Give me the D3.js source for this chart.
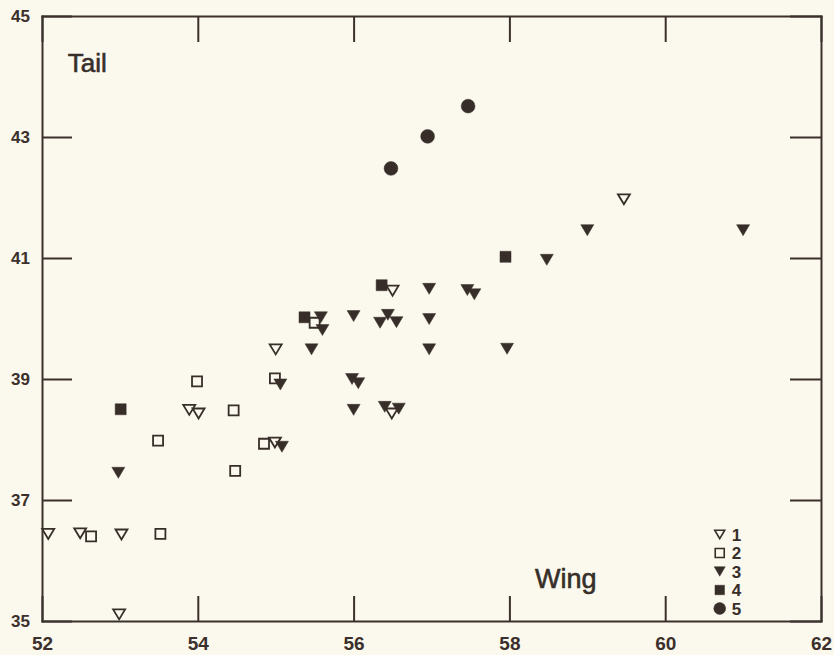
<!DOCTYPE html>
<html>
<head>
<meta charset="utf-8">
<script src="https://cdn.jsdelivr.net/npm/d3@7"></script>
<style>
  body { margin: 0; background: #fbf9ed; }
  svg { display: block; }
  .axis path, .axis line { stroke: #3b302c; stroke-width: 2; }
  .axis text { font-family: "Liberation Sans", Arial, sans-serif; font-weight: bold; font-size: 17px; fill: #3b302c; }
  .axis.xlab text { font-size: 19px; }
</style>
</head>
<body>
<div id="chart"></div>
<script>
// chart size and frame
var svgWidth = 834;
var svgHeight = 655;

var margin = {
  top: 16,
  right: 13,
  bottom: 34,
  left: 42
};

var width = svgWidth - margin.left - margin.right;
var height = svgHeight - margin.top - margin.bottom;

var ink = "#372e2a";
var paper = "#fbf9ed";

// tick values
var xTicks = [52, 54, 56, 58, 60, 62];
var yTicks = [35, 37, 39, 41, 43, 45];

// data: [wing, tail] for each group
var group1 = [[52.08, 36.44], [52.49, 36.45], [53.02, 36.43], [52.99, 35.11], [53.89, 38.49],
              [54.01, 38.43], [54.99, 37.95], [55.0, 39.49], [56.5, 40.46], [56.49, 38.43], [59.47, 41.97]];
var group2 = [[52.63, 36.4], [53.52, 36.44], [53.49, 37.98], [53.99, 38.96], [54.46, 38.48],
              [54.48, 37.48], [54.85, 37.93], [54.99, 39.01], [55.5, 39.93]];
var group3 = [[52.98, 37.45], [55.08, 37.88], [55.06, 38.91], [55.46, 39.49], [55.58, 40.02],
              [55.6, 39.81], [56.0, 40.04], [55.98, 39.0], [56.06, 38.93], [56.0, 38.49],
              [56.34, 39.93], [56.44, 40.06], [56.55, 39.94], [56.4, 38.54], [56.58, 38.51],
              [56.97, 40.49], [56.97, 39.99], [56.97, 39.49], [57.46, 40.47], [57.55, 40.4],
              [57.97, 39.5], [58.48, 40.97], [59.0, 41.46], [61.0, 41.46]];
var group4 = [[53.01, 38.5], [55.37, 40.02], [56.36, 40.55], [57.95, 41.02]];
var group5 = [[56.48, 42.48], [56.95, 43.01], [57.47, 43.51]];

var groupNames = ["1", "2", "3", "4", "5"];

var svg = d3.select("#chart")
  .append("svg")
  .attr("width", svgWidth)
  .attr("height", svgHeight);

svg.append("rect")
  .attr("width", svgWidth)
  .attr("height", svgHeight)
  .attr("fill", paper);

var chartGroup = svg.append("g")
  .attr("transform", `translate(${margin.left}, ${margin.top})`);

var x = d3.scaleLinear().domain([52, 62]).range([0, width]);
var y = d3.scaleLinear().domain([35, 45]).range([height, 0]);

// axes: ticks point inward, only left and bottom carry labels
chartGroup.append("g")
  .attr("class", "axis xlab")
  .attr("transform", `translate(0, ${height})`)
  .call(d3.axisBottom(x).tickValues(xTicks).tickSizeInner(-25).tickSizeOuter(0).tickPadding(16));

chartGroup.append("g")
  .attr("class", "axis")
  .call(d3.axisTop(x).tickValues(xTicks).tickSizeInner(-26).tickSizeOuter(0).tickFormat(""));

chartGroup.append("g")
  .attr("class", "axis")
  .call(d3.axisLeft(y).tickValues(yTicks).tickSizeInner(-30).tickSizeOuter(0).tickPadding(12));

chartGroup.append("g")
  .attr("class", "axis")
  .attr("transform", `translate(${width}, 0)`)
  .call(d3.axisRight(y).tickValues(yTicks).tickSizeInner(-31).tickSizeOuter(0).tickFormat(""));

chartGroup.selectAll(".axis path.domain").attr("stroke-linecap", "square");

// marker shapes
function triDown(w, h) {
  return `M${-w / 2},${-h / 2}L${w / 2},${-h / 2}L0,${h / 2}Z`;
}
function square(s) {
  return `M${-s / 2},${-s / 2}h${s}v${s}h${-s}Z`;
}

var styles = [
  { path: triDown(12, 10), fill: paper, stroke: ink, sw: 1.8 },
  { path: square(10), fill: paper, stroke: ink, sw: 1.8 },
  { path: triDown(13, 11), fill: ink, stroke: ink, sw: 0.5 },
  { path: square(11), fill: ink, stroke: ink, sw: 0.5 },
  { path: d3.symbol(d3.symbolCircle, 150)(), fill: ink, stroke: ink, sw: 0.5 }
];

var groups = [group1, group2, group3, group4, group5];

// drawing order so overlaps look like the original
[3, 1, 0, 2, 4].forEach(function(i) {
  chartGroup.append("g")
    .selectAll("path")
    .data(groups[i])
    .enter()
    .append("path")
    .attr("d", styles[i].path)
    .attr("transform", d => `translate(${x(d[0])}, ${y(d[1])})`)
    .attr("fill", styles[i].fill)
    .attr("stroke", styles[i].stroke)
    .attr("stroke-width", styles[i].sw);
});

// axis titles
chartGroup.append("text")
  .attr("x", x(52.33))
  .attr("y", y(44.07))
  .attr("font-family", "Liberation Sans, Arial, sans-serif")
  .attr("font-size", 26)
  .attr("fill", ink)
  .attr("stroke", ink)
  .attr("stroke-width", 0.6)
  .text("Tail");

chartGroup.append("text")
  .attr("x", x(58.33))
  .attr("y", y(35.55))
  .attr("font-family", "Liberation Sans, Arial, sans-serif")
  .attr("font-size", 27)
  .attr("fill", ink)
  .attr("stroke", ink)
  .attr("stroke-width", 0.6)
  .text("Wing");

// legend
var legendSmall = [
  triDown(10, 8.5),
  square(9),
  triDown(11, 9.5),
  square(9.5),
  d3.symbol(d3.symbolCircle, 110)()
];

var legend = chartGroup.append("g")
  .attr("transform", `translate(${x(60.7)}, ${y(36.43)})`);

groupNames.forEach(function(name, i) {
  var row = legend.append("g").attr("transform", `translate(0, ${i * 18.5})`);
  row.append("path")
    .attr("d", legendSmall[i])
    .attr("fill", styles[i].fill)
    .attr("stroke", styles[i].stroke)
    .attr("stroke-width", i < 2 ? 1.6 : 0.5);
  row.append("text")
    .attr("x", 12)
    .attr("dy", "0.36em")
    .attr("font-family", "Liberation Sans, Arial, sans-serif")
    .attr("font-weight", "bold")
    .attr("font-size", 17)
    .attr("fill", ink)
    .text(name);
});
</script>
</body>
</html>
